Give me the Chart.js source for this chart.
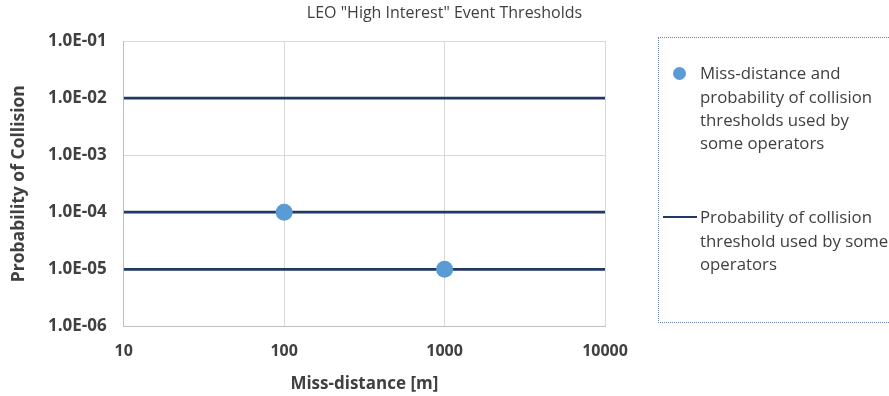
<!DOCTYPE html>
<html>
<head>
<meta charset="utf-8">
<script src="https://cdn.jsdelivr.net/npm/chart.js@4.4.0/dist/chart.umd.min.js"></script>
<style>
  html, body { margin: 0; padding: 0; background: #fff; }
  #wrap { position: relative; width: 889px; height: 396px; overflow: hidden; }
  #legend {
    position: absolute; left: 658px; top: 37px; width: 233px; height: 286px;
    border: 1px dotted #6f86a8; box-sizing: border-box;
    font-family: "Open Sans", sans-serif; font-size: 16.8px; color: #404040; line-height: 23.3px;
  }
  .item { position: absolute; left: 0; display: flex; align-items: flex-start; }
  .mark { flex: none; position: relative; width: 41px; height: 23px; }
  .txt { width: 192px; }
</style>
</head>
<body>
<div id="wrap">
  <canvas id="chart" width="889" height="396"></canvas>
  <div id="legend"></div>
</div>
<script>
// Thresholds: Pc lines across the whole miss-distance range, plus (distance, Pc) pairs
const xRange = [10, 10000];
const pcThresholds = [1e-2, 1e-4, 1e-5];
const missDistances = [100, 1000];
const pcAtDistance = [1e-4, 1e-5];
const xTicks = [10, 100, 1000, 10000];
const yTicks = [1e-6, 1e-5, 1e-4, 1e-3, 1e-2, 1e-1];

const pointLabel = 'Miss-distance and probability of collision thresholds used by some operators';
const lineLabel = 'Probability of collision threshold used by some operators';

const lineColor = '#1f3864';
const dotColor = '#5b9bd5';
const font = '"Open Sans", sans-serif';

// one dataset, separate segments split by null points
const lineData = [];
pcThresholds.forEach(p => {
    lineData.push({ x: xRange[0], y: p });
    lineData.push({ x: xRange[1], y: p });
    lineData.push({ x: xRange[1], y: null });
});
const pointData = missDistances.map((d, i) => ({ x: d, y: pcAtDistance[i] }));

function expLabel(v) {
    const e = Math.round(Math.log10(v));
    const s = Math.abs(e) < 10 ? '0' + Math.abs(e) : '' + Math.abs(e);
    return '1.0E' + (e < 0 ? '-' : '+') + s;
}

// title centred on the whole canvas, not the plot
const topTitle = {
    id: 'topTitle',
    afterDraw(chart) {
        const c = chart.ctx;
        c.save();
        c.font = '16px ' + font;
        c.fillStyle = '#404040';
        c.textAlign = 'center';
        c.textBaseline = 'middle';
        c.fillText('LEO "High Interest" Event Thresholds', chart.width / 2, 13);
        c.restore();
    }
};

const chart = new Chart(document.getElementById('chart'), {
    type: 'scatter',
    data: {
        datasets: [{
            label: pointLabel,
            data: pointData,
            showLine: false,
            pointRadius: 8.5,
            pointHoverRadius: 8.5,
            backgroundColor: dotColor,
            borderColor: dotColor,
            borderWidth: 0,
            order: 0
        }, {
            label: lineLabel,
            data: lineData,
            showLine: true,
            spanGaps: false,
            pointRadius: 0,
            borderColor: lineColor,
            borderWidth: 2.75,
            order: 1
        }]
    },
    options: {
        responsive: false,
        animation: false,
        layout: { padding: { left: 9, right: 284, top: 41, bottom: 0 } },
        plugins: { legend: { display: false }, tooltip: { enabled: false } },
        scales: {
            x: {
                type: 'logarithmic',
                min: xRange[0], max: xRange[1],
                afterBuildTicks: s => { s.ticks = xTicks.map(v => ({ value: v })); },
                ticks: { callback: v => String(v), color: '#404040', font: { family: font, size: 16, weight: 'bold' }, padding: 15, maxRotation: 0 },
                grid: { color: '#d9d9d9', drawTicks: false },
                border: { color: '#bfbfbf' },
                title: { display: true, text: 'Miss-distance [m]', color: '#404040', font: { family: font, size: 17, weight: 'bold', lineHeight: 1 }, padding: { top: 0, bottom: 3.4 } }
            },
            y: {
                type: 'logarithmic',
                min: 1e-6, max: 1e-1,
                afterBuildTicks: s => { s.ticks = yTicks.map(v => ({ value: v })); },
                ticks: { callback: v => expLabel(v), color: '#404040', font: { family: font, size: 17, weight: 'bold' }, padding: 17 },
                grid: { color: '#d9d9d9', drawTicks: false },
                border: { color: '#bfbfbf' },
                title: { display: true, text: 'Probability of Collision', color: '#404040', font: { family: font, size: 17.5, weight: 'bold' }, padding: { top: 0, bottom: 1 } }
            }
        }
    },
    plugins: [topTitle]
});

// legend entries built from the datasets
const legend = document.getElementById('legend');
const itemTops = [23.4, 167.4];
chart.data.datasets.forEach((ds, i) => {
    const item = document.createElement('div');
    item.className = 'item';
    item.style.top = itemTops[i] + 'px';
    const mark = document.createElement('div');
    mark.className = 'mark';
    const sym = document.createElement('div');
    sym.style.position = 'absolute';
    if (i === 0) {
        Object.assign(sym.style, { left: '13.5px', top: '5.2px', width: '13px', height: '13px', borderRadius: '50%', background: dotColor });
    } else {
        Object.assign(sym.style, { left: '4px', top: '10.6px', width: '34px', height: '2px', background: lineColor });
    }
    mark.appendChild(sym);
    const txt = document.createElement('div');
    txt.className = 'txt';
    txt.textContent = ds.label;
    item.appendChild(mark);
    item.appendChild(txt);
    legend.appendChild(item);
});
</script>
</body>
</html>
